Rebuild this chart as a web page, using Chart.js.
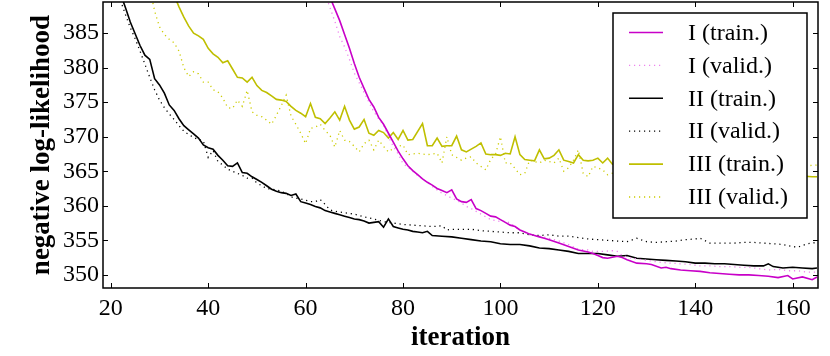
<!DOCTYPE html>
<html>
<head>
<meta charset="utf-8">
<script src="https://cdn.jsdelivr.net/npm/chart.js@4/dist/chart.umd.min.js"></script>
<style>
  html, body { margin: 0; padding: 0; background: #fff; }
  canvas { display: block; }
</style>
</head>
<body>
<canvas id="nllChart" width="830" height="356"></canvas>
<script>
// axis ticks
const xTicks = [20, 40, 60, 80, 100, 120, 140, 160];
const yTicks = [350, 355, 360, 365, 370, 375, 380, 385];

// I (train.)
const iterITrain = [64, 65, 66, 67, 68, 69, 70, 71, 72, 73, 74, 75, 76, 77, 78, 79, 80, 81, 82, 83, 84, 85, 86, 87, 88, 89, 90, 91, 92, 93, 94, 95, 96, 97, 98, 99, 100, 101, 102, 103, 104, 105, 106, 107, 108, 109, 110, 112, 114, 116, 118, 119, 120, 121, 122, 124, 125, 126, 128, 130, 131, 133, 134, 135, 137, 139, 141, 143, 145, 147, 149, 151, 153, 155, 157, 159, 160, 162, 164, 165];
const nllITrain = [392.0, 390.2, 388.5, 386.8, 384.8, 382.8, 380.6, 378.6, 377.0, 375.4, 374.3, 372.8, 371.8, 370.5, 369.2, 367.9, 366.8, 365.8, 365.1, 364.5, 363.9, 363.4, 363.0, 362.5, 362.2, 361.9, 362.3, 361.0, 360.6, 360.5, 360.9, 359.6, 359.3, 358.9, 358.5, 358.4, 358.0, 357.6, 357.2, 357.0, 356.5, 356.2, 355.9, 355.7, 355.5, 355.3, 355.1, 354.6, 354.1, 353.6, 353.3, 353.1, 352.8, 352.5, 352.4, 352.7, 352.5, 352.2, 351.7, 351.6, 351.5, 351.0, 351.1, 350.9, 350.7, 350.6, 350.5, 350.3, 350.2, 350.1, 350.0, 350.0, 349.9, 349.8, 349.6, 349.9, 349.4, 349.7, 349.3, 349.7];

// I (valid.)
const iterIValid = [64, 65, 66, 67, 68, 69, 70, 71, 72, 73, 74, 75, 76, 77, 78, 79, 80, 81, 82, 83, 84, 85, 86, 87, 88, 89, 90, 91, 92, 93, 94, 95, 96, 97, 98, 100, 101, 102, 103, 104, 106, 108, 110, 112, 114, 116, 118, 119, 121, 123, 124, 125, 127, 129, 131, 133, 135, 137, 139, 141, 143, 145, 147, 149, 151, 153, 155, 157, 159, 161, 163, 165];
const nllIValid = [390.7, 388.7, 386.7, 384.5, 383.0, 381.2, 379.2, 377.8, 376.4, 375.0, 373.6, 372.6, 371.7, 370.0, 368.6, 367.5, 366.1, 365.6, 365.0, 364.4, 363.9, 363.4, 362.8, 362.3, 361.8, 361.5, 361.1, 360.8, 360.4, 359.9, 359.6, 359.2, 358.8, 358.4, 358.0, 357.7, 357.8, 357.5, 357.0, 356.5, 355.8, 355.6, 355.3, 354.9, 354.4, 353.7, 353.6, 353.4, 353.4, 353.5, 353.4, 352.8, 352.4, 352.2, 352.0, 351.8, 351.7, 351.6, 351.5, 351.3, 351.3, 351.2, 351.2, 351.1, 351.1, 350.9, 350.7, 350.8, 350.6, 350.6, 350.4, 350.4];

// II (train.)
const iterIITrain = [21, 22, 23, 24, 25, 26, 27, 28, 29, 30, 31, 32, 33, 34, 35, 36, 37, 38, 39, 40, 41, 42, 43, 44, 45, 46, 47, 48, 49, 50, 51, 52, 53, 54, 55, 56, 57, 58, 59, 60, 61, 62, 63, 64, 65, 66, 67, 68, 69, 70, 71, 72, 73, 74, 75, 76, 77, 78, 79, 80, 81, 82, 83, 84, 85, 86, 88, 90, 92, 94, 96, 98, 100, 102, 104, 106, 108, 110, 112, 114, 116, 118, 120, 122, 124, 126, 128, 130, 132, 134, 136, 138, 140, 142, 144, 146, 148, 150, 152, 154, 155, 156, 158, 160, 162, 164, 165];
const nllIITrain = [392.8, 390.7, 388.7, 386.6, 384.9, 383.2, 381.8, 381.2, 378.4, 377.5, 376.3, 374.6, 373.8, 372.6, 371.6, 371.0, 370.4, 369.8, 368.8, 368.4, 368.2, 367.3, 366.6, 365.8, 365.7, 366.2, 364.8, 364.7, 364.2, 363.8, 363.4, 362.9, 362.4, 362.1, 361.9, 361.8, 361.5, 361.7, 360.6, 360.4, 360.2, 359.9, 359.7, 359.3, 359.1, 358.9, 358.7, 358.5, 358.3, 358.1, 358.0, 357.8, 357.5, 357.6, 357.7, 356.9, 358.1, 357.0, 356.8, 356.6, 356.5, 356.3, 356.2, 356.1, 356.3, 355.7, 355.6, 355.5, 355.3, 355.1, 354.9, 354.8, 354.5, 354.4, 354.4, 354.2, 353.9, 353.8, 353.6, 353.4, 353.1, 353.1, 353.1, 352.9, 352.7, 352.8, 352.4, 352.3, 352.2, 352.1, 352.0, 351.9, 351.7, 351.7, 351.6, 351.6, 351.5, 351.4, 351.3, 351.3, 351.6, 351.2, 351.0, 351.1, 351.0, 350.9, 351.0];

// II (valid.)
const iterIIValid = [21, 22, 23, 24, 25, 26, 27, 28, 29, 30, 31, 32, 33, 34, 35, 36, 37, 38, 39, 40, 41, 42, 43, 44, 45, 46, 47, 48, 49, 50, 51, 52, 53, 54, 55, 56, 57, 58, 59, 60, 61, 62, 63, 64, 65, 66, 67, 68, 70, 72, 74, 76, 78, 80, 82, 84, 86, 88, 89, 90, 92, 94, 96, 98, 100, 102, 104, 106, 108, 110, 112, 114, 116, 118, 120, 122, 124, 126, 128, 130, 132, 134, 136, 138, 140, 141, 143, 145, 148, 150, 152, 154, 156, 158, 160, 161, 163, 165];
const nllIIValid = [391.8, 389.7, 387.7, 385.8, 384.2, 382.4, 380.5, 378.6, 376.8, 375.3, 374.2, 373.3, 372.5, 371.6, 370.8, 370.3, 369.9, 369.6, 369.4, 367.0, 368.0, 366.4, 365.9, 365.3, 365.0, 364.7, 364.4, 364.0, 364.0, 363.3, 362.9, 362.5, 362.4, 362.3, 362.1, 361.8, 361.3, 361.1, 361.0, 360.8, 360.6, 360.6, 360.9, 360.2, 359.4, 359.2, 359.1, 359.0, 358.8, 358.4, 358.1, 357.7, 357.5, 357.3, 357.2, 357.1, 357.0, 357.1, 356.5, 356.6, 356.6, 356.6, 356.4, 356.3, 356.2, 356.1, 356.1, 355.8, 355.7, 355.8, 355.6, 355.6, 355.4, 355.2, 355.1, 355.0, 354.9, 354.8, 355.3, 354.8, 354.7, 354.8, 354.9, 355.1, 355.2, 355.3, 354.6, 354.6, 354.6, 354.7, 354.7, 354.6, 354.5, 354.4, 354.1, 354.0, 354.5, 354.7];

// III (train.)
const iterIIITrain = [32, 33, 34, 35, 36, 37, 38, 39, 40, 41, 42, 43, 44, 45, 46, 47, 48, 49, 50, 51, 52, 53, 54, 55, 56, 57, 58, 59, 60, 61, 62, 63, 64, 65, 66, 67, 68, 69, 70, 71, 72, 73, 74, 75, 76, 77, 78, 79, 80, 81, 82, 84, 85, 86, 87, 88, 89, 90, 91, 92, 93, 94, 95, 96, 97, 98, 99, 100, 101, 102, 103, 104, 105, 106, 107, 108, 109, 110, 111, 112, 113, 114, 115, 116, 117, 118, 119, 120, 121, 122, 123, 126, 130, 135, 140, 145, 150, 155, 160, 164, 165];
const nllIIITrain = [392.2, 390.5, 388.8, 387.3, 386.0, 385.0, 384.6, 384.1, 382.8, 382.0, 381.5, 380.7, 381.0, 379.8, 378.6, 378.5, 377.9, 378.6, 377.4, 376.7, 376.4, 375.9, 375.4, 375.3, 375.1, 374.4, 373.8, 373.4, 372.9, 374.8, 372.8, 372.6, 371.9, 372.7, 373.6, 372.4, 374.4, 372.4, 371.1, 371.4, 372.5, 370.5, 370.2, 370.9, 370.6, 369.8, 370.6, 369.6, 370.9, 369.5, 369.6, 371.9, 368.7, 368.7, 369.8, 368.6, 368.7, 368.7, 370.1, 368.1, 367.8, 368.2, 368.6, 369.1, 367.5, 367.4, 367.4, 367.3, 367.6, 367.5, 370.0, 367.4, 366.7, 366.6, 366.5, 368.1, 366.8, 366.9, 367.3, 368.1, 366.6, 366.4, 366.2, 367.4, 366.6, 366.5, 366.6, 366.9, 366.2, 366.9, 366.0, 365.8, 365.6, 365.3, 365.0, 364.9, 364.7, 364.6, 364.4, 364.2, 364.2];

// III (valid.)
const iterIIIValid = [28, 29, 30, 31, 32, 33, 34, 35, 36, 37, 38, 39, 40, 41, 42, 43, 44, 45, 46, 47, 48, 49, 50, 51, 52, 53, 54, 55, 56, 57, 58, 59, 60, 61, 62, 63, 64, 65, 66, 67, 68, 69, 70, 71, 72, 73, 74, 75, 76, 77, 78, 79, 80, 81, 82, 83, 84, 85, 86, 87, 88, 89, 90, 91, 92, 93, 94, 95, 96, 97, 98, 99, 100, 101, 102, 103, 104, 105, 106, 107, 108, 109, 110, 111, 112, 113, 114, 115, 116, 117, 118, 119, 120, 121, 122, 126, 130, 135, 140, 145, 150, 155, 160, 163, 165];
const nllIIIValid = [391.5, 388.2, 385.9, 384.8, 384.1, 383.6, 382.4, 380.0, 378.7, 379.4, 379.1, 377.9, 377.9, 376.8, 376.5, 375.6, 374.2, 374.1, 375.3, 374.4, 376.7, 373.6, 373.1, 372.9, 372.4, 371.8, 373.1, 374.5, 376.0, 373.0, 371.8, 370.5, 369.0, 371.2, 371.4, 371.8, 370.9, 370.2, 368.5, 370.9, 369.5, 369.3, 368.6, 367.8, 369.0, 369.5, 368.1, 369.5, 368.6, 367.8, 368.3, 368.6, 368.8, 367.4, 367.5, 367.6, 367.5, 367.4, 367.5, 367.6, 366.2, 370.0, 367.4, 367.0, 366.6, 366.9, 367.1, 366.2, 365.7, 365.2, 366.7, 367.5, 370.0, 366.2, 366.2, 365.4, 364.5, 364.7, 366.6, 366.4, 366.2, 366.6, 366.4, 366.2, 366.9, 365.0, 365.5, 366.6, 368.1, 364.7, 364.2, 365.7, 365.5, 365.2, 364.5, 365.4, 365.2, 365.5, 365.3, 365.6, 365.4, 365.6, 365.5, 365.8, 365.9];

function toPoints(xs, ys) {
    return xs.map((v, i) => ({ x: v, y: ys[i] }));
}

const serif = '"Liberation Serif", "DejaVu Serif", serif';

// inward tick marks on all four sides plus the frame
const frameTicks = {
    id: 'frameTicks',
    afterDatasetsDraw(chart) {
        const { ctx, chartArea: a, scales: { x, y } } = chart;
        ctx.save();
        ctx.strokeStyle = '#000';
        ctx.lineWidth = 1;
        ctx.beginPath();
        x.ticks.forEach(t => {
            const px = Math.round(x.getPixelForValue(t.value)) + 0.5;
            ctx.moveTo(px, a.bottom); ctx.lineTo(px, a.bottom - 5);
            ctx.moveTo(px, a.top); ctx.lineTo(px, a.top + 5);
        });
        y.ticks.forEach(t => {
            const py = Math.round(y.getPixelForValue(t.value)) + 0.5;
            ctx.moveTo(a.left, py); ctx.lineTo(a.left + 5, py);
            ctx.moveTo(a.right, py); ctx.lineTo(a.right - 5, py);
        });
        ctx.stroke();
        ctx.lineWidth = 1.5;
        ctx.strokeRect(a.left, a.top, a.right - a.left, a.bottom - a.top);
        ctx.restore();
    }
};

// matplotlib-style boxed legend in the upper right
const boxLegend = {
    id: 'boxLegend',
    afterDraw(chart) {
        const ctx = chart.ctx;
        const box = { left: 613, top: 13, right: 807, bottom: 218 };
        ctx.save();
        ctx.fillStyle = '#fff';
        ctx.fillRect(box.left, box.top, box.right - box.left, box.bottom - box.top);
        ctx.strokeStyle = '#000';
        ctx.lineWidth = 1.5;
        ctx.strokeRect(box.left, box.top, box.right - box.left, box.bottom - box.top);
        ctx.font = '24px ' + serif;
        ctx.textBaseline = 'middle';
        ctx.textAlign = 'left';
        chart.data.datasets.forEach((ds, i) => {
            const cy = 32.5 + i * 32.9;
            ctx.strokeStyle = ds.borderColor;
            ctx.lineWidth = ds.borderWidth;
            ctx.setLineDash(ds.borderDash || []);
            ctx.beginPath();
            ctx.moveTo(629, cy);
            ctx.lineTo(663, cy);
            ctx.stroke();
            ctx.setLineDash([]);
            ctx.fillStyle = '#000';
            ctx.fillText(ds.label, 688, cy + 1);
        });
        ctx.restore();
    }
};

const dotted = [1.2, 3.8];

new Chart(document.getElementById('nllChart').getContext('2d'), {
    type: 'line',
    data: {
        datasets: [
            { label: 'I (train.)', data: toPoints(iterITrain, nllITrain), borderColor: '#c800c8', borderWidth: 1.6 },
            { label: 'I (valid.)', data: toPoints(iterIValid, nllIValid), borderColor: '#ee82ee', borderWidth: 1.3, borderDash: dotted },
            { label: 'II (train.)', data: toPoints(iterIITrain, nllIITrain), borderColor: '#000000', borderWidth: 1.6 },
            { label: 'II (valid.)', data: toPoints(iterIIValid, nllIIValid), borderColor: '#000000', borderWidth: 1.3, borderDash: dotted },
            { label: 'III (train.)', data: toPoints(iterIIITrain, nllIIITrain), borderColor: '#bfbf00', borderWidth: 1.6 },
            { label: 'III (valid.)', data: toPoints(iterIIIValid, nllIIIValid), borderColor: '#cccc00', borderWidth: 1.3, borderDash: dotted }
        ]
    },
    options: {
        responsive: false,
        animation: false,
        events: [],
        layout: { padding: { left: 0, right: 12, top: 2, bottom: 0 } },
        elements: {
            point: { radius: 0 },
            line: { tension: 0, fill: false }
        },
        plugins: {
            legend: { display: false },
            tooltip: { enabled: false }
        },
        scales: {
            x: {
                type: 'linear',
                min: 18.4,
                max: 165.2,
                grid: { display: false, drawTicks: false },
                border: { display: false },
                afterBuildTicks: s => { s.ticks = xTicks.map(v => ({ value: v })); },
                afterFit: s => { s.height = 68; s.paddingLeft = 0; s.paddingRight = 0; },
                ticks: { color: '#000', font: { family: serif, size: 24 }, padding: 6, maxRotation: 0 },
                title: { display: true, text: 'iteration', color: '#000', font: { family: serif, size: 27, weight: 'bold' }, padding: { top: 0, bottom: 2 } }
            },
            y: {
                type: 'linear',
                min: 348.1,
                max: 389.5,
                grid: { display: false, drawTicks: false },
                border: { display: false },
                afterBuildTicks: s => { s.ticks = yTicks.map(v => ({ value: v })); },
                afterFit: s => { s.width = 103; s.paddingTop = 0; s.paddingBottom = 0; },
                ticks: { color: '#000', font: { family: serif, size: 24 }, padding: 4 },
                title: { display: true, text: 'negative log-likelihood', color: '#000', font: { family: serif, size: 27, weight: 'bold' }, padding: { top: 26, bottom: 0 } }
            }
        }
    },
    plugins: [frameTicks, boxLegend]
});
</script>
</body>
</html>
